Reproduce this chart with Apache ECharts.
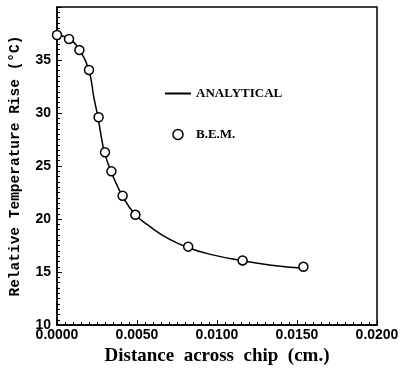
<!DOCTYPE html>
<html><head><meta charset="utf-8">
<script src="https://cdn.jsdelivr.net/npm/echarts@6/dist/echarts.min.js"></script>
<style>html,body{margin:0;padding:0;background:#fff}#c{width:403px;height:371px}</style>
</head><body><div id="c"></div>
<script>
// Analytical curve (distance cm, temperature rise °C)
const analyticalX = [0, 0.00075, 0.0014, 0.002, 0.0023, 0.00256, 0.0028, 0.003, 0.0034, 0.0041, 0.0049, 0.0059, 0.0069, 0.0082, 0.0098, 0.0115, 0.0134, 0.0154];
const analyticalY = [37.36, 37.0, 35.94, 33.96, 31.5, 29.6, 27.5, 26.1, 24.4, 22.15, 20.4, 19.2, 18.2, 17.3, 16.6, 16.1, 15.65, 15.35];
// B.E.M. points
const bemX = [0, 0.00075, 0.0014, 0.002, 0.0026, 0.003, 0.0034, 0.0041, 0.0049, 0.0082, 0.0116, 0.0154];
const bemY = [37.36, 36.98, 35.94, 34.06, 29.6, 26.3, 24.5, 22.2, 20.4, 17.4, 16.1, 15.5];

const chart = echarts.init(document.getElementById('c'), null, {renderer:'canvas'});
const tickFont = {fontFamily:'Liberation Sans', fontWeight:'bold', fontSize:14, color:'#000'};
chart.setOption({
  animation:false,
  grid:{left:56, right:26, top:7, bottom:44, show:true, borderColor:'#000', borderWidth:1.5},
  legend:{
    left:160, top:82, orient:'vertical', itemGap:28, itemWidth:26, itemHeight:10,
    textStyle:{fontFamily:'Liberation Serif', fontWeight:'bold', fontSize:13, color:'#000'},
    data:[
      {name:'ANALYTICAL', icon:'path://M0,4H26V6H0Z', itemStyle:{color:'#000'}},
      {name:'B.E.M.', icon:'circle', itemStyle:{color:'#fff', borderColor:'#000', borderWidth:1.5, opacity:1}}
    ]
  },
  xAxis:{
    type:'value', min:0, max:0.02, interval:0.005,
    name:'Distance  across  chip  (cm.)', nameLocation:'middle', nameGap:17,
    nameTextStyle:{fontFamily:'Liberation Serif', fontWeight:'bold', fontSize:19, color:'#000'},
    axisLine:{lineStyle:{color:'#000', width:1.5}},
    axisTick:{inside:true, length:5, lineStyle:{color:'#000'}},
    minorTick:{show:true, splitNumber:10, length:3, lineStyle:{color:'#000'}},
    splitLine:{show:false},
    axisLabel:Object.assign({margin:3, formatter:v=>v.toFixed(4)}, tickFont)
  },
  yAxis:{
    type:'value', min:10, max:40, interval:5,
    name:'Relative Temperature Rise (°C)', nameLocation:'middle', nameGap:34,
    nameTextStyle:{fontFamily:'Liberation Mono', fontWeight:'bold', fontSize:14.5, color:'#000'},
    axisLine:{lineStyle:{color:'#000', width:1.5}},
    axisTick:{inside:true, length:5, lineStyle:{color:'#000'}},
    minorTick:{show:true, splitNumber:10, length:3, lineStyle:{color:'#000'}},
    splitLine:{show:false},
    axisLabel:Object.assign({margin:6, formatter:v=>v===40?'':String(v)}, tickFont)
  },
  series:[
    {name:'ANALYTICAL', type:'line', smooth:0.5, showSymbol:false, symbol:'none',
     lineStyle:{color:'#000', width:1.5}, itemStyle:{color:'#000'},
     data:analyticalX.map((x,i)=>[x, analyticalY[i]])},
    {name:'B.E.M.', type:'scatter', symbol:'circle', symbolSize:9,
     itemStyle:{color:'#fff', borderColor:'#000', borderWidth:1.5, opacity:1},
     data:bemX.map((x,i)=>[x, bemY[i]]), z:5}
  ]
});
</script></body></html>
